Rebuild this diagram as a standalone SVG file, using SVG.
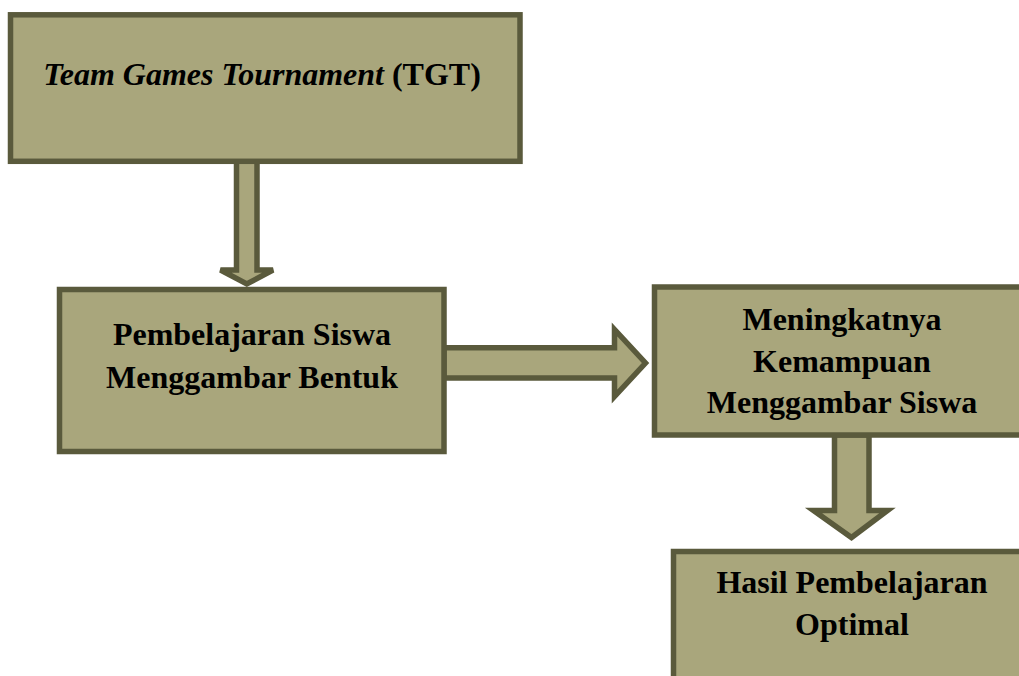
<svg xmlns="http://www.w3.org/2000/svg" width="1019" height="676" viewBox="0 0 1019 676">
<style>
.box{fill:#a9a67c;stroke:#5a5a3c;stroke-width:5.5}
.arr{fill:#a9a67c;stroke:#5a5a3c;stroke-width:5.5;stroke-linejoin:miter}
.t{font-family:"Liberation Serif","Times New Roman",serif;font-weight:bold;font-size:32px;fill:#000;text-anchor:middle}
</style>
<rect width="1019" height="676" fill="#fff"/>
<g id="connectors">
<polygon class="arr" points="236.5,160 257,160 257,270 273,270 246.8,284 220.5,270 236.5,270"/>
<polygon class="arr" points="444,347.8 614.5,347.8 614.5,329.5 645.5,363 614.5,396.5 614.5,378 444,378"/>
<polygon class="arr" points="834.5,435 869,435 869,510.5 887.5,510.5 851.5,537.5 813.5,510.5 834.5,510.5"/>
</g>
<g id="node-tgt">
<rect class="box" x="10.5" y="14.8" width="509.5" height="146.5"/>
<text class="t" x="262" y="85"><tspan font-style="italic">Team Games Tournament</tspan> (TGT)</text>
</g>
<g id="node-pembelajaran">
<rect class="box" x="59.5" y="289.5" width="384.5" height="162"/>
<text class="t" x="252" y="345">Pembelajaran Siswa</text>
<text class="t" x="252" y="388">Menggambar Bentuk</text>
</g>
<g id="node-meningkatnya">
<rect class="box" x="654.5" y="287" width="380" height="148"/>
<text class="t" x="842" y="330">Meningkatnya</text>
<text class="t" x="842" y="371.5">Kemampuan</text>
<text class="t" x="842" y="413">Menggambar Siswa</text>
</g>
<g id="node-hasil">
<rect class="box" x="673.5" y="551.5" width="360" height="140"/>
<text class="t" x="852" y="593">Hasil Pembelajaran</text>
<text class="t" x="852" y="635">Optimal</text>
</g>
</svg>
